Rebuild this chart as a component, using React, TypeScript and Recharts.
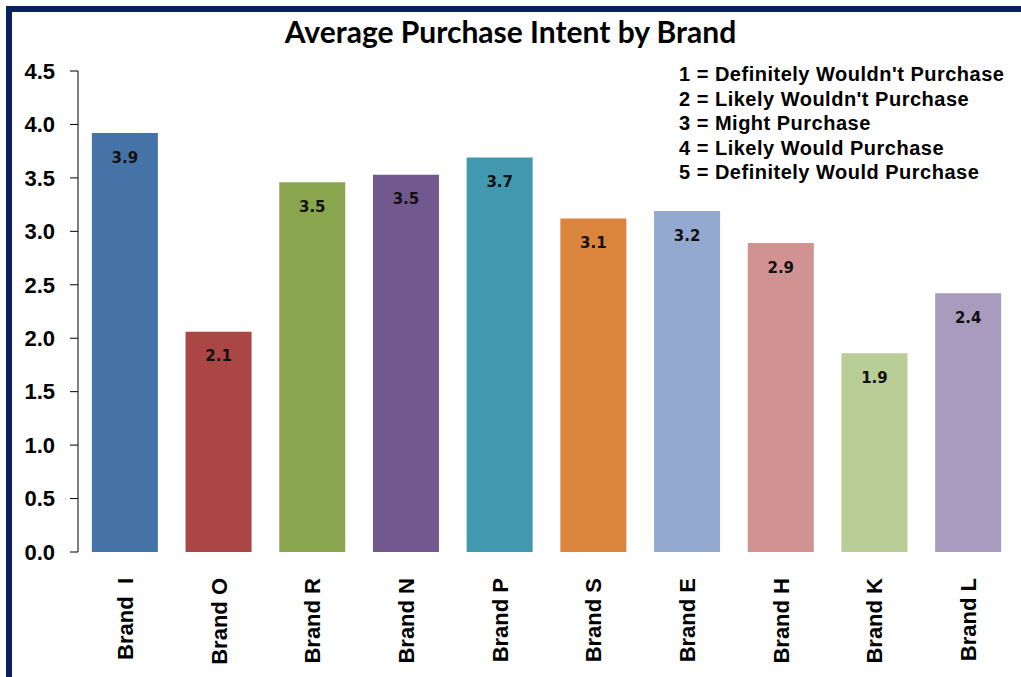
import React from "react";
import { BarChart, Bar, XAxis, YAxis, Cell, LabelList } from "recharts";

const brands = ["Brand  I", "Brand O", "Brand R", "Brand N", "Brand P", "Brand S", "Brand E", "Brand H", "Brand K", "Brand L"];
const intent = [3.92, 2.06, 3.46, 3.53, 3.69, 3.12, 3.19, 2.89, 1.86, 2.42];
const barColors = ["#4572A7", "#AA4643", "#89A54E", "#71588F", "#4198AF", "#DB843D", "#93A9CF", "#D19392", "#B9CD96", "#A99BBD"];
const yTicks = [0, 0.5, 1, 1.5, 2, 2.5, 3, 3.5, 4, 4.5];
const boundaryTicks = [0, 1, 2, 3, 4, 5, 6, 7, 8, 9, 10];
const scaleNotes = [
  "1 = Definitely Wouldn't Purchase",
  "2 = Likely Wouldn't Purchase",
  "3 = Might Purchase",
  "4 = Likely Would Purchase",
  "5 = Definitely Would Purchase",
];
const titleText = "Average Purchase Intent by Brand";

const data = brands.map((b, i) => ({ brand: b, idx: i + 0.5, value: intent[i] }));

const BrandTick = (props: any) => {
  const { x, y, payload } = props;
  return (
    <g transform={`translate(${x},${y})`}>
      <text
        transform="rotate(-90)"
        x={-26}
        y={8}
        textAnchor="end"
        fill="#000"
        style={{ fontFamily: "'Liberation Sans', Arial, sans-serif", fontSize: 22, fontWeight: 700, whiteSpace: "pre" }}
      >
        {payload.value}
      </text>
    </g>
  );
};

const EmptyTick = () => <g />;

export default function App() {
  return (
    <div style={{ position: "absolute", left: 0, top: 0, width: 1021, height: 677, background: "#fff", overflow: "hidden" }}>
      <div
        style={{
          position: "absolute",
          left: 6,
          top: 6,
          width: 1100,
          height: 800,
          borderTop: "6px solid #0b215f",
          borderLeft: "6px solid #0b215f",
        }}
      />
      <div
        style={{
          position: "absolute",
          left: 0,
          width: 1021,
          top: 12,
          textAlign: "center",
          fontFamily: "Lato, sans-serif",
          fontWeight: 700,
          fontSize: 30,
          lineHeight: "38px",
          color: "#000",
        }}
      >
        {titleText}
      </div>
      <div style={{ position: "absolute", left: 0, top: 0 }}>
        <BarChart
          width={1021}
          height={677}
          data={data}
          margin={{ top: 71, right: 6, bottom: 0, left: 0 }}
          barCategoryGap="14.8%"
        >
          <XAxis
            xAxisId="edges"
            type="number"
            dataKey="idx"
            domain={[0, 10]}
            ticks={boundaryTicks}
            interval={0}
            allowDataOverflow
            height={0}
            tick={<EmptyTick />}
            tickSize={7}
            axisLine={{ stroke: "#000", strokeWidth: 1 }}
            tickLine={{ stroke: "#000", strokeWidth: 1 }}
          />
          <XAxis
            xAxisId="cat"
            dataKey="brand"
            type="category"
            height={125}
            axisLine={false}
            tickLine={false}
            tickSize={0}
            tickMargin={0}
            interval={0}
            tick={<BrandTick />}
          />
          <YAxis
            width={78}
            domain={[0, 4.5]}
            ticks={yTicks}
            interval={0}
            tickSize={8}
            tickMargin={15}
            axisLine={{ stroke: "#000", strokeWidth: 1 }}
            tickLine={{ stroke: "#000", strokeWidth: 1 }}
            tickFormatter={(v: number) => v.toFixed(1)}
            tick={{ fill: "#000", fontSize: 22, fontWeight: 700, fontFamily: "'Liberation Sans', Arial, sans-serif" }}
          />
          <Bar xAxisId="cat" dataKey="value" isAnimationActive={false}>
            {data.map((d, i) => (
              <Cell key={d.brand} fill={barColors[i]} />
            ))}
            <LabelList
              dataKey="value"
              position="insideTop"
              offset={19}
              formatter={(v: any) => Number(v).toFixed(1)}
              style={{ fill: "#111", fontSize: 15, fontWeight: 700, fontFamily: "'DejaVu Sans', sans-serif" }}
            />
          </Bar>
        </BarChart>
      </div>
      <div
        style={{
          position: "absolute",
          left: 679,
          top: 62,
          fontFamily: "'Liberation Sans', Arial, sans-serif",
          fontWeight: 700,
          fontSize: 20,
          lineHeight: "24.6px",
          letterSpacing: 0.5,
          color: "#000",
          whiteSpace: "pre",
        }}
      >
        {scaleNotes.map((t) => (
          <div key={t}>{t}</div>
        ))}
      </div>
    </div>
  );
}
